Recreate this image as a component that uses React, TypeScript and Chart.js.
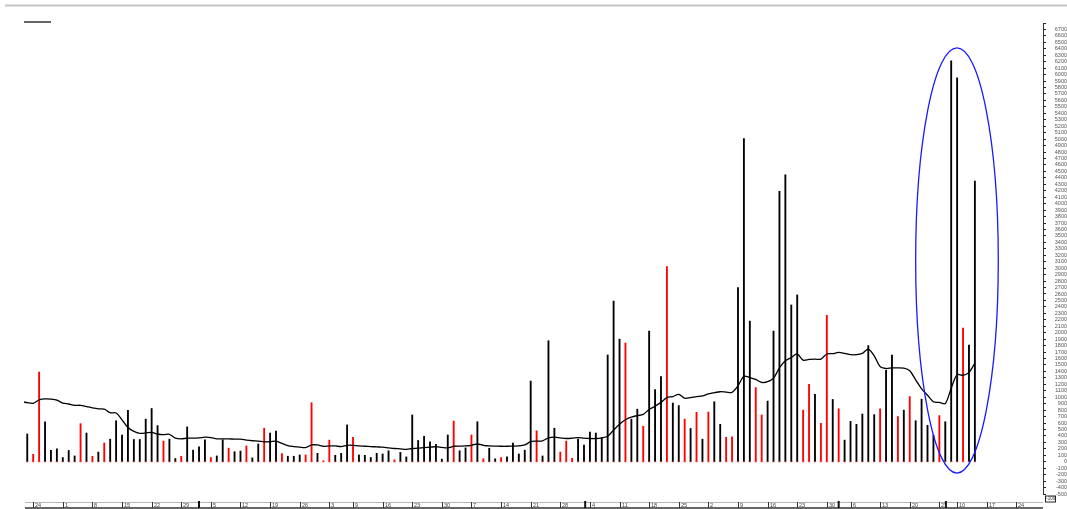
import React, { useEffect, useRef } from "react";
import { Chart, registerables } from "chart.js";

Chart.register(...registerables);

// Daily volume bars, one per trading day
const volumes: number[] = [
  430, 115, 1390, 620, 175, 200, 65, 175, 90, 590,
  445, 85, 150, 290, 350, 635, 415, 795, 345, 345,
  660, 825, 560, 320, 350, 50, 85, 540, 180, 230,
  340, 65, 90, 340, 210, 155, 165, 245, 60, 275,
  520, 445, 475, 125, 85, 85, 105, 105, 915, 130,
  15, 335, 100, 130, 570, 380, 105, 100, 65, 130,
  120, 170, 30, 145, 75, 725, 330, 395, 310, 270,
  40, 415, 630, 170, 215, 415, 620, 45, 210, 45,
  65, 75, 290, 120, 180, 1250, 480, 90, 1875, 520,
  150, 320, 55, 350, 260, 460, 445, 370, 1655, 2490,
  1900, 1840, 660, 815, 550, 2025, 1120, 1320, 3025, 910,
  870, 660, 515, 765, 350, 770, 930, 580, 380, 385,
  2700, 5010, 2180, 1150, 725, 940, 2025, 4190, 4445, 2430,
  2585, 800, 1200, 1045, 595, 2270, 965, 820, 335, 625,
  580, 740, 1800, 730, 820, 1415, 1655, 700, 800, 1010,
  635, 970, 565, 415, 715, 620, 6215, 5950, 2070, 1810,
  4350,
];

// "B" = black (up day), "R" = red (down day)
const barKinds: string[] = [
  "B", "R", "R", "B", "B", "B", "B", "B", "B", "R",
  "B", "R", "B", "R", "B", "B", "B", "B", "B", "B",
  "B", "B", "B", "R", "B", "B", "R", "B", "B", "B",
  "B", "R", "B", "B", "R", "B", "B", "R", "B", "B",
  "R", "B", "B", "R", "B", "B", "B", "R", "R", "B",
  "R", "R", "B", "B", "B", "R", "B", "B", "B", "B",
  "B", "B", "R", "B", "B", "B", "B", "B", "B", "B",
  "B", "B", "R", "B", "B", "R", "B", "R", "B", "B",
  "R", "B", "B", "B", "B", "B", "R", "B", "B", "B",
  "R", "R", "R", "B", "B", "B", "B", "B", "B", "B",
  "B", "R", "B", "B", "R", "B", "B", "B", "R", "B",
  "B", "R", "B", "R", "B", "R", "B", "B", "R", "R",
  "B", "B", "B", "R", "R", "B", "B", "B", "B", "B",
  "B", "R", "R", "B", "R", "R", "B", "R", "B", "B",
  "B", "B", "B", "B", "R", "B", "B", "R", "B", "R",
  "B", "B", "B", "B", "R", "B", "B", "B", "R", "B",
  "B",
];

// Moving average line, starting one day before the first bar
const averageLine: number[] = [
  935,
  915, 905, 960, 975, 970, 955, 910, 895, 875, 875,
  855, 835, 820, 815, 760, 755, 650, 530, 470, 440,
  445, 455, 430, 420, 425, 365, 355, 365, 365, 370,
  380, 375, 355, 355, 355, 350, 350, 335, 325, 320,
  310, 310, 320, 285, 250, 235, 225, 220, 260, 260,
  240, 245, 245, 235, 255, 255, 245, 240, 235, 230,
  225, 215, 205, 200, 192, 205, 210, 220, 225, 233,
  222, 215, 240, 243, 245, 255, 275, 255, 245, 243,
  240, 240, 243, 245, 260, 310, 320, 325, 370, 380,
  370, 360, 365, 375, 365, 360, 360, 370, 395, 490,
  580, 650, 690, 715, 735, 810, 860, 920, 995, 1010,
  1045, 985, 995, 1010, 1020, 1050, 1070, 1085, 1080, 1075,
  1175, 1325, 1305, 1275, 1230, 1240, 1295, 1455, 1565, 1615,
  1670, 1575, 1585, 1590, 1590, 1670, 1675, 1695, 1680, 1660,
  1660, 1680, 1745, 1640, 1475, 1445, 1455, 1455, 1450, 1410,
  1270, 1130, 1030, 930, 920, 900, 1140, 1350, 1340, 1385, 1530,
];

// Date strip along the bottom: day index -> label
const dateTickIndex: number[] = [
  2, 7, 12, 17, 22, 27, 32, 37, 42, 47, 52, 56, 61, 66, 71, 76, 81, 86,
  91, 96, 101, 106, 111, 116, 121, 126, 131, 136, 140, 145, 150, 155, 158, 163, 168,
];
const dateTickLabel: string[] = [
  "24", "1", "8", "15", "22", "29", "5", "12", "19", "26", "3", "9", "16", "23", "30", "7", "14", "21",
  "28", "4", "11", "18", "25", "2", "9", "16", "23", "30", "6", "13", "20", "27", "10", "17", "24",
];
const dateBreakIndex: number[] = [30, 95.2, 138, 156.1];

// Highlight ellipse (in data units)
const ellipseX: number[] = [151.0, 164.95];
const ellipseY: number[] = [-175, 6414];

const axisMin = -500;
const axisMax = 6800;
const xMin = 0.45;
const xMax = 172.5;
const boxLabel = "-100";

const FONT = "'Liberation Sans', Arial, sans-serif";

export default function App() {
  const ref = useRef<HTMLCanvasElement | null>(null);

  useEffect(() => {
    if (!ref.current) return;

    const extras = {
      id: "extras",
      beforeDraw(chart: any) {
        const ctx = chart.ctx;
        ctx.save();
        ctx.fillStyle = "#ffffff";
        ctx.fillRect(0, 0, chart.width, chart.height);
        ctx.restore();
      },
      afterDatasetsDraw(chart: any) {
        const ctx = chart.ctx;
        const xs = chart.scales.x;
        const ys = chart.scales.y;
        const x0 = xs.getPixelForValue(ellipseX[0]);
        const x1 = xs.getPixelForValue(ellipseX[1]);
        const y0 = ys.getPixelForValue(ellipseY[1]);
        const y1 = ys.getPixelForValue(ellipseY[0]);
        ctx.save();
        ctx.strokeStyle = "#1a1aff";
        ctx.lineWidth = 1.3;
        ctx.beginPath();
        ctx.ellipse((x0 + x1) / 2, (y0 + y1) / 2, (x1 - x0) / 2, (y1 - y0) / 2, 0, 0, Math.PI * 2);
        ctx.stroke();
        ctx.restore();
      },
      afterDraw(chart: any) {
        const ctx = chart.ctx;
        const xs = chart.scales.x;
        const area = chart.chartArea;
        ctx.save();
        // top rule
        ctx.fillStyle = "#c4c4c4";
        ctx.fillRect(5, 4.5, chart.width - 5, 2);
        // legend swatch for the average line
        ctx.strokeStyle = "#000";
        ctx.lineWidth = 1.2;
        ctx.beginPath();
        ctx.moveTo(24, 22);
        ctx.lineTo(51, 22);
        ctx.stroke();

        // date strip
        const top = 502;
        const bot = 508;
        const left = area.left + 1;
        const right = area.right;
        ctx.strokeStyle = "#b5b5b5";
        ctx.lineWidth = 1;
        ctx.beginPath();
        ctx.moveTo(left, top + 0.5);
        ctx.lineTo(right, top + 0.5);
        ctx.stroke();
        ctx.strokeStyle = "#333";
        ctx.lineWidth = 1.4;
        ctx.beginPath();
        ctx.moveTo(left, bot);
        ctx.lineTo(right, bot);
        ctx.stroke();
        ctx.lineWidth = 1;
        ctx.font = `5.5px ${FONT}`;
        ctx.fillStyle = "#444";
        ctx.textBaseline = "middle";
        ctx.textAlign = "left";
        dateTickIndex.forEach((idx, i) => {
          const px = Math.round(xs.getPixelForValue(idx)) + 0.5;
          ctx.beginPath();
          ctx.moveTo(px, top);
          ctx.lineTo(px, bot);
          ctx.stroke();
          ctx.fillText(dateTickLabel[i], px + 1.5, (top + bot) / 2 + 0.5);
        });
        ctx.lineWidth = 2;
        ctx.strokeStyle = "#111";
        dateBreakIndex.forEach((idx) => {
          const px = xs.getPixelForValue(idx);
          ctx.beginPath();
          ctx.moveTo(px, top - 1);
          ctx.lineTo(px, bot);
          ctx.stroke();
        });

        // boxed value marker at the foot of the price axis
        const bx = area.right + 2;
        const by = 495.5;
        ctx.fillStyle = "#fff";
        ctx.fillRect(bx, by, 10, 6);
        ctx.strokeStyle = "#222";
        ctx.lineWidth = 1;
        ctx.strokeRect(bx + 0.5, by + 0.5, 10, 6);
        ctx.fillStyle = "#333";
        ctx.font = `4.5px ${FONT}`;
        ctx.fillText(boxLabel, bx + 1.2, by + 3.6);
        ctx.restore();
      },
    };

    const chart = new Chart(ref.current, {
      data: {
        datasets: [
          {
            type: "line",
            data: averageLine.map((v, i) => ({ x: i, y: v })),
            borderColor: "#000",
            borderWidth: 1.3,
            pointRadius: 0,
            tension: 0.3,
            fill: false,
            order: 0,
          },
          {
            type: "bar",
            data: volumes.map((v, i) => ({ x: i + 1, y: v })),
            backgroundColor: barKinds.map((k) => (k === "R" ? "#ff0000" : "#000000")),
            barThickness: 1.2,
            grouped: false,
            order: 1,
          },
          {
            type: "line",
            data: volumes.map((_, i) => ({ x: i + 1, y: 0 })),
            showLine: false,
            pointStyle: "line",
            pointRadius: 1.2,
            borderColor: "#ff2020",
            borderWidth: 0.8,
            order: 2,
          },
        ],
      } as any,
      options: {
        responsive: false,
        animation: false,
        events: [],
        layout: { padding: { top: 23, bottom: 15, left: 24, right: 0 } },
        plugins: { legend: { display: false }, tooltip: { enabled: false } },
        scales: {
          x: {
            type: "linear",
            min: xMin,
            max: xMax,
            offset: false,
            display: false,
            grid: { offset: false },
          },
          y: {
            type: "linear",
            position: "right",
            min: axisMin,
            max: axisMax,
            afterFit: (scale: any) => {
              scale.width = 24;
            },
            grid: {
              drawOnChartArea: false,
              drawTicks: true,
              tickLength: 3,
              tickColor: "#222",
              tickWidth: 1,
            },
            border: { display: true, color: "#333", dash: [1, 2], width: 1 },
            ticks: {
              stepSize: 100,
              autoSkip: false,
              maxTicksLimit: 1000,
              padding: 1,
              crossAlign: "far",
              color: "#555",
              font: { size: 5.5, family: FONT },
              callback: (v: any) => (Number(v) >= axisMax ? "" : String(v)),
            },
          },
        },
      } as any,
      plugins: [extras],
    });
    return () => chart.destroy();
  }, []);

  return (
    <div style={{ position: "fixed", left: 0, top: 0, width: 1067, height: 509, background: "#fff" }}>
      <canvas ref={ref} width={1067} height={509} style={{ width: 1067, height: 509, display: "block" }} />
    </div>
  );
}
